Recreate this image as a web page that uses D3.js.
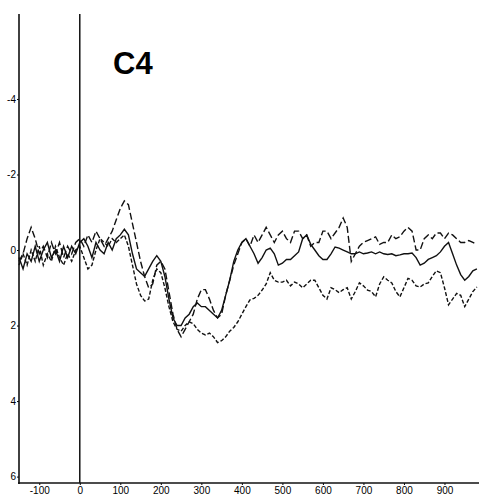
<!doctype html>
<html>
    <head>
        <meta charset="utf-8">
        <script src="https://d3js.org/d3.v7.min.js"></script>
        <style>
            body { margin: 0; background: #fff; }
            path.domain { stroke: none; }
            .tick text { font-family: "Liberation Sans", Arial, sans-serif; font-size: 10px; fill: #000; }
            .tick line { stroke: #000; }
        </style>
    </head>
    <body>
        <div id="viz">
            <svg style="width:479px;height:495px;display:block;"></svg>
        </div>

        <script>
            // sampling: every 10 ms from -150 to 980
            var times = d3.range(-150, 990, 10);

            var xTicks = [-100, 0, 100, 200, 300, 400, 500, 600, 700, 800, 900];
            var yTicks = [-4, -2, 0, 2, 4, 6];

            // solid trace (uV)
            var solid = [
                0.2, 0.5, 0.1, 0.3, -0.1, 0.3, 0.0, -0.2, 0.2, 0.0, 0.3, -0.1, 0.2, -0.1, 0.1, -0.2,
                -0.3, -0.1, 0.2, -0.2, 0.0, 0.1, -0.2, 0.0, -0.3, -0.4, -0.55, -0.4, 0.1, 0.5,
                0.6, 0.7, 0.5, 0.3, 0.15, 0.3, 0.7, 1.3, 1.8, 2.0,
                2.0, 1.8, 1.7, 1.5, 1.4, 1.5, 1.5, 1.6, 1.7, 1.8,
                1.6, 1.2, 0.8, 0.3, 0.0, -0.2, -0.3, -0.1, 0.1, 0.35,
                0.2, 0.0, -0.05, 0.1, 0.4, 0.35, 0.25, 0.25, 0.15, 0.05,
                -0.3, -0.4, -0.15, 0.0, 0.15, 0.25, 0.25, 0.1, -0.08, -0.05,
                0.0, 0.05, 0.1, 0.1, 0.05, 0.1, 0.08, 0.05, 0.1, 0.05,
                0.1, 0.12, 0.1, 0.15, 0.13, 0.1, 0.1, 0.08, 0.2, 0.4,
                0.35, 0.25, 0.2, 0.15, 0.05, -0.1, -0.2, 0.1, 0.4, 0.65,
                0.8, 0.7, 0.55, 0.5
            ];

            // long dashed trace (uV)
            var dashed = [
                0.3, 0.1, -0.3, -0.6, -0.3, 0.1, -0.1, 0.2, -0.2, 0.1, -0.2, 0.2, -0.1, 0.1, -0.2, -0.3,
                -0.1, -0.4, -0.2, -0.5, -0.3, -0.1, -0.3, -0.5, -0.8, -1.1, -1.3, -1.2, -0.7, -0.2,
                0.3, 0.7, 1.0, 0.9, 0.4, 0.3, 0.5, 1.1, 1.7, 2.1,
                2.3, 2.1, 1.9, 1.7, 1.3, 1.05, 1.05, 1.3, 1.6, 1.8,
                1.7, 1.2, 0.8, 0.4, 0.1, -0.2, -0.3, -0.1, -0.4, -0.2,
                -0.4, -0.6, -0.4, -0.2, -0.4, -0.5, -0.3, -0.2, -0.5, -0.5,
                -0.3, -0.4, -0.1, -0.2, -0.2, -0.5, -0.5, -0.3, -0.45, -0.6,
                -0.85, -0.6, 0.3, 0.1, -0.1, -0.2, -0.25, -0.3, -0.35, -0.15,
                -0.2, -0.2, -0.4, -0.3, -0.35, -0.5, -0.6, -0.5, 0.0, 0.0,
                -0.3, -0.4, -0.3, -0.45, -0.45, -0.3, -0.45, -0.4, -0.3, -0.2,
                -0.2, -0.25, -0.2, -0.15
            ];

            // short dashed trace (uV)
            var dotted = [
                0.4, 0.1, 0.4, 0.0, 0.3, -0.1, 0.4, 0.1, 0.3, -0.1, 0.2, 0.4, 0.1, 0.3, 0.0, -0.1,
                0.2, 0.5, 0.4, 0.0, -0.3, -0.2, -0.1, -0.3, -0.2, -0.3, -0.4, -0.1, 0.4, 0.9,
                1.2, 1.35, 1.3, 0.8, 0.5, 0.6, 1.0, 1.5, 1.9, 2.1,
                2.15, 2.0, 1.9, 1.95, 2.1, 2.2, 2.25, 2.2, 2.3, 2.45,
                2.4, 2.3, 2.15, 2.05, 1.9, 1.7, 1.5, 1.32, 1.28, 1.2,
                1.06, 0.9, 0.6, 0.8, 0.85, 0.85, 0.8, 0.95, 0.85, 0.9,
                1.0, 0.9, 0.8, 0.8, 1.0, 1.2, 1.3, 1.0, 1.05, 1.13,
                1.05, 1.0, 1.3, 1.1, 0.87, 0.95, 1.06, 1.1, 1.24, 0.9,
                0.71, 0.8, 0.87, 1.1, 1.24, 1.0, 0.75, 0.8, 0.95, 0.98,
                0.9, 0.87, 0.7, 0.55, 0.6, 1.0, 1.45, 1.3, 1.15, 1.2,
                1.5, 1.3, 1.1, 0.98
            ];

            var svg = d3.select('svg');

            var xScale = d3.scaleLinear().domain([-150, 1000]).range([19, 485]);
            var yScale = d3.scaleLinear().domain([-6.25, 6.17]).range([14, 483]);

            var xAxis = d3.axisBottom(xScale).tickValues(xTicks).tickSize(2).tickPadding(2)
                .tickFormat(d => String(d));
            svg.append('g').attr('transform', 'translate(0,483)').call(xAxis);

            var yAxis = d3.axisLeft(yScale).tickValues(yTicks).tickSize(2).tickPadding(1)
                .tickFormat(d => String(d));
            svg.append('g').attr('transform', 'translate(19,0)').call(yAxis);

            // frame lines
            svg.append('line')
                .attr('x1', 19).attr('x2', 19).attr('y1', 14).attr('y2', 484)
                .style('stroke', '#111').style('stroke-width', 1.6);
            svg.append('line')
                .attr('x1', 18).attr('x2', 479).attr('y1', 483).attr('y2', 483)
                .style('stroke', '#111').style('stroke-width', 1.6);
            svg.append('line')
                .attr('x1', xScale(0)).attr('x2', xScale(0)).attr('y1', 14).attr('y2', 483)
                .style('stroke', '#111').style('stroke-width', 1.5);

            svg.append('text')
                .attr('x', 113).attr('y', 74)
                .style('font-family', '"Liberation Sans", Arial, sans-serif')
                .style('font-weight', 'bold')
                .style('font-size', '31px')
                .text('C4');

            var line = d3.line()
                .x((d, i) => xScale(times[i]))
                .y(d => yScale(d));

            var traces = [
                { values: solid, dash: null },
                { values: dashed, dash: '7,3' },
                { values: dotted, dash: '4,2' }
            ];

            svg.selectAll('path.trace')
                .data(traces)
                .enter()
                .append('path')
                    .attr('class', 'trace')
                    .attr('d', d => line(d.values))
                    .style('fill', 'none')
                    .style('stroke', '#111')
                    .style('stroke-width', 1.4)
                    .style('stroke-dasharray', d => d.dash);
        </script>
    </body>
</html>
